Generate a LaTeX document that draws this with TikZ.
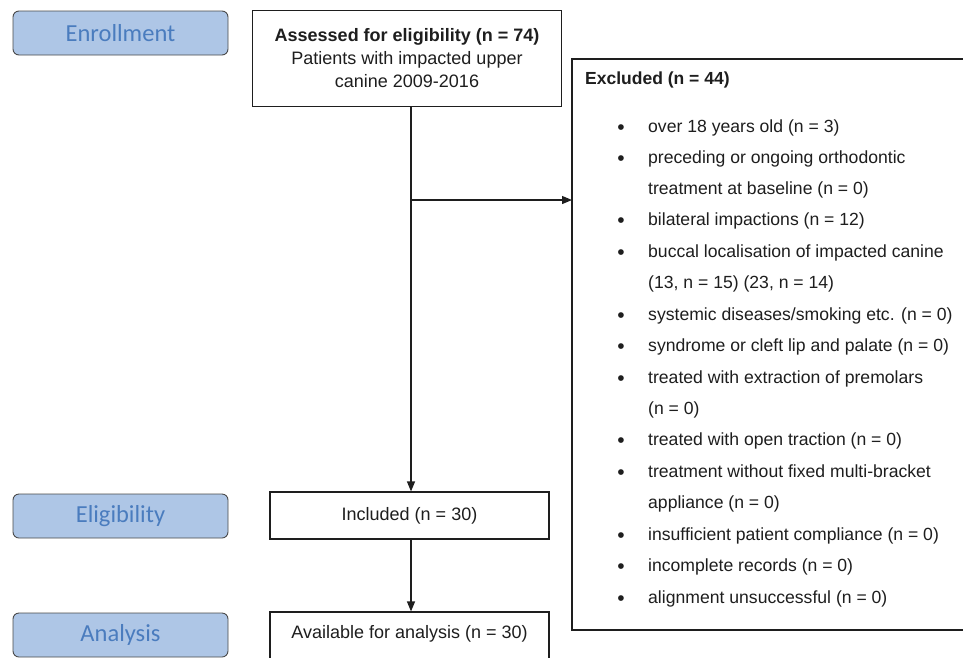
\documentclass[tikz,border=0pt]{standalone}
\usepackage{fontspec}
\setmainfont{Liberation Sans}
\newfontfamily\labfont{Carlito}
\usetikzlibrary{arrows.meta}
\definecolor{labfill}{HTML}{AEC6E6}
\definecolor{labtext}{HTML}{4A7CBE}
\definecolor{labedge}{HTML}{4A4A4A}
\definecolor{ink}{HTML}{1E1E1E}
\tikzset{
  stage/.style={draw=labedge, line width=0.9pt, fill=labfill, rounded corners=6pt,
    minimum width=215pt, minimum height=44pt, inner sep=0pt,
    text=labtext, font=\labfont\fontsize{24.5}{28}\selectfont},
  flowbox/.style={draw=ink, line width=1.2pt, fill=white, inner sep=0pt, text=ink,
    font=\fontsize{18}{23}\selectfont, align=center},
  item/.style={anchor=mid west, inner sep=0pt, text=ink, font=\fontsize{17.6}{20}\selectfont},
  dot/.style={anchor=center, inner sep=0pt, text=ink, font=\fontsize{21}{22}\selectfont},
  conn/.style={draw=ink, line width=1.2pt},
  arr/.style={conn, -{Triangle[length=10pt,width=8pt]}}
}
\begin{document}
\begin{tikzpicture}[x=1pt,y=-1pt]
\useasboundingbox (0,0) rectangle (963,657);
\begin{scope}
\clip (0,0) rectangle (963,657);
% stage labels
\node[stage] (enr) at (120.5,33) {Enrollment};
\node[stage] (eli) at (120.5,516) {Eligibility};
\node[stage] (ana) at (120.5,635) {Analysis};
% assessed box
\node[flowbox, minimum width=309pt, minimum height=96pt] (ass) at (407,58.5)
  {\textbf{Assessed for eligibility (n = 74)}\\Patients with impacted upper\\canine 2009-2016};
% included box
\node[flowbox, minimum width=279pt, minimum height=47pt] (inc) at (409.5,515.5) {Included (n = 30)};
% available box (bottom cut off)
\node[flowbox, minimum width=279pt, minimum height=60pt] (ava) at (409.5,642) {};
\node[inner sep=0pt, text=ink, font=\fontsize{18}{20}\selectfont] (avat) at (409.5,634) {Available for analysis (n = 30)};
% excluded box (right edge beyond picture)
\draw[draw=ink, line width=1.2pt, fill=white] (572,59) rectangle (980,630);
\coordinate (exl) at (572,200);
\node[anchor=mid west, inner sep=0pt, text=ink, font=\bfseries\fontsize{17.5}{20}\selectfont] (exh) at (585,82) {Excluded (n = 44)};
% items
\node[dot] (b1) at (621,130) {\textbullet};
\node[item] (t1) at (648,130) {over 18 years old (n = 3)};
\node[dot] (b2) at (621,161) {\textbullet};
\node[item] (t2) at (648,161) {preceding or ongoing orthodontic};
\node[item] (t2b) at (648,192) {treatment at baseline (n = 0)};
\node[dot] (b3) at (621,223) {\textbullet};
\node[item] (t3) at (648,223) {bilateral impactions (n = 12)};
\node[dot] (b4) at (621,255) {\textbullet};
\node[item] (t4) at (648,255) {buccal localisation of impacted canine};
\node[item] (t4b) at (648,286) {(13, n = 15) (23, n = 14)};
\node[dot] (b5) at (621,318) {\textbullet};
\node[item] (t5) at (648,318) {systemic diseases/smoking etc. (n = 0)};
\node[dot] (b6) at (621,349) {\textbullet};
\node[item] (t6) at (648,349) {syndrome or cleft lip and palate (n = 0)};
\node[dot] (b7) at (621,381) {\textbullet};
\node[item] (t7) at (648,381) {treated with extraction of premolars};
\node[item] (t7b) at (648,412) {(n = 0)};
\node[dot] (b8) at (621,443) {\textbullet};
\node[item] (t8) at (648,443) {treated with open traction (n = 0)};
\node[dot] (b9) at (621,475) {\textbullet};
\node[item] (t9) at (648,475) {treatment without fixed multi-bracket};
\node[item] (t9b) at (648,506) {appliance (n = 0)};
\node[dot] (b10) at (621,538) {\textbullet};
\node[item] (t10) at (648,538) {insufficient patient compliance (n = 0)};
\node[dot] (b11) at (621,569) {\textbullet};
\node[item] (t11) at (648,569) {incomplete records (n = 0)};
\node[dot] (b12) at (621,601) {\textbullet};
\node[item] (t12) at (648,601) {alignment unsuccessful (n = 0)};
% connectors
\coordinate (top) at ([xshift=4pt]ass.south);
\coordinate (br) at (top |- exl);
\draw[arr] (top) -- (top |- inc.north);
\draw[arr] (br) -- (exl);
\draw[arr] (top |- inc.south) -- (top |- ava.north);
\end{scope}
\end{tikzpicture}
\end{document}
